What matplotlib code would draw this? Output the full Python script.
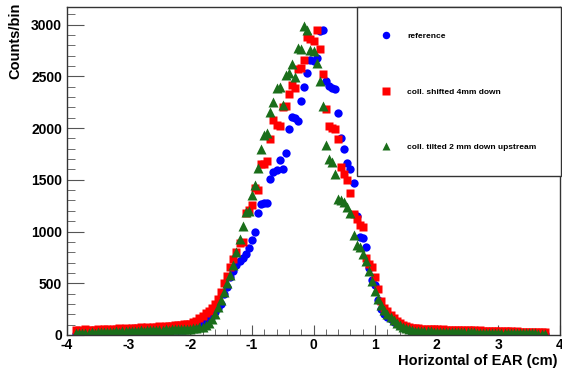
import numpy as np
import matplotlib.pyplot as plt
from matplotlib.ticker import MultipleLocator

plt.rcParams['font.family'] = ['Liberation Sans', 'DejaVu Sans']
plt.rcParams['axes.unicode_minus'] = False

# bin centres (cm), 0.05 cm bins
x = np.round(np.arange(-3.85, 3.76, 0.05), 2)

# counts per bin
reference = [
    10, 15, 12, 18, 15, 20, 17, 22, 20, 24, 22, 26, 25, 28, 27, 30, 29, 32, 30, 34,
    33, 36, 35, 38, 37, 40, 39, 42, 41, 44, 43, 46, 45, 48, 50, 52, 55,
    60, 70, 80, 95, 110, 130, 150, 180, 220, 260, 300, 400, 460, 560, 615, 680, 720, 745,
    780, 840, 920, 1000, 1180, 1270, 1280, 1280, 1510, 1580, 1590, 1690, 1600, 1760, 1990,
    2110, 2100, 2070, 2260, 2400, 2530, 2660, 2650, 2680, 2940, 2950, 2450, 2410, 2390,
    2380, 2150, 1900, 1800, 1660, 1600, 1470, 1150, 950, 940, 855, 650, 530, 480, 340,
    250, 200, 175, 150, 130, 110, 97, 80, 65,
    45, 35, 30, 27, 25, 24, 23, 22, 21, 21, 20, 20, 19, 19, 18, 18, 17, 17, 16, 16,
    15, 15, 14, 14, 14, 13, 13, 13, 12, 12, 12, 11, 11, 11, 10, 10, 10, 10, 9, 9,
    9, 9, 8, 8, 8,
]
shifted = [
    45, 50, 40, 55, 48, 52, 45, 58, 50, 55, 60, 52, 62, 58, 65, 60, 70, 62, 68, 72,
    65, 75, 70, 78, 72, 80, 76, 85, 80, 88, 84, 90, 95, 92, 100, 105, 108,
    110, 125, 140, 160, 180, 210, 235, 265, 300, 350, 420, 500, 570, 660, 730, 800, 890, 900,
    1180, 1210, 1260, 1420, 1400, 1650, 1650, 1680, 1890, 2080, 2030, 2020, 2200, 2210, 2330,
    2420, 2390, 2570, 2580, 2660, 2880, 2860, 2840, 2950, 2760, 2520, 2180, 2020, 2000,
    1990, 1890, 1620, 1560, 1500, 1370, 1170, 1120, 1060, 1040, 740, 690, 660, 560, 440,
    330, 260, 230, 195, 160, 135, 120, 100, 90,
    80, 70, 65, 68, 60, 62, 58, 60, 55, 57, 52, 55, 50, 53, 48, 50, 47, 49, 45, 47,
    44, 46, 42, 44, 40, 42, 38, 40, 37, 39, 35, 37, 34, 36, 32, 34, 31, 33, 30, 32,
    29, 31, 28, 30, 27,
]
tilted = [
    15, 20, 18, 22, 20, 25, 22, 28, 25, 30, 27, 32, 30, 35, 32, 38, 35, 40, 37, 42,
    40, 45, 42, 47, 45, 50, 48, 52, 50, 55, 53, 57, 55, 60, 58, 62, 60,
    60, 65, 70, 75, 80, 95, 115, 150, 200, 270, 340, 420, 500, 580, 680, 800, 930, 1050,
    1190, 1200, 1350, 1450, 1610, 1800, 1930, 1950, 2160, 2250, 2390, 2400, 2220, 2510, 2530,
    2620, 2490, 2770, 2760, 2990, 2950, 2750, 2740, 2630, 2450, 2210, 1840, 1700, 1670,
    1560, 1310, 1300, 1290, 1240, 1180, 970, 870, 850, 780, 720, 620, 520, 430, 350,
    290, 240, 200, 170, 145, 120, 97, 80, 70,
    55, 48, 42, 40, 38, 36, 35, 34, 33, 33, 32, 31, 30, 30, 29, 28, 28, 27, 27, 26,
    25, 25, 24, 24, 23, 23, 22, 22, 21, 21, 20, 20, 19, 19, 18, 18, 17, 17, 16, 16,
    15, 15, 14, 14, 13,
]
labels = ['reference', 'coll. shifted 4mm down', 'coll. tilted 2 mm down upstream']

fig = plt.figure(figsize=(5.62, 3.71), dpi=100)
ax = fig.add_axes([67 / 562, 1 - 335 / 371, 493 / 562, 328 / 371])

h1, = ax.plot(x, reference, 'o', color='#0000ff', ms=6, mec='none', label=labels[0])
h2, = ax.plot(x, shifted, 's', color='#ff0000', ms=5.8, mec='none', label=labels[1])
h3, = ax.plot(x, tilted, '^', color='#1a6e1a', ms=6.5, mec='none', label=labels[2])

ax.set_xlim(-4, 4)
ax.set_ylim(0, 3170)
ax.xaxis.set_major_locator(MultipleLocator(1))
ax.xaxis.set_minor_locator(MultipleLocator(0.2))
ax.yaxis.set_major_locator(MultipleLocator(500))
ax.yaxis.set_minor_locator(MultipleLocator(100))
ax.tick_params(direction='in', which='both', top=False, right=False, color='#555555',
               labelsize=10)
ax.tick_params(axis='y', which='major', length=12)
ax.tick_params(axis='y', which='minor', length=6)
ax.tick_params(axis='x', which='major', length=7, pad=2)
ax.tick_params(axis='x', which='minor', length=4)
for lab in ax.get_xticklabels() + ax.get_yticklabels():
    lab.set_fontweight('bold')
for sp in ax.spines.values():
    sp.set_linewidth(1.0)
    sp.set_color('#333333')

fig.text(558 / 562, 1 - 361 / 371, 'Horizontal of EAR (cm)', ha='right', va='center',
         fontsize=10.5, fontweight='bold')
fig.text(15 / 562, 1 - 3 / 371, 'Counts/bin', ha='center', va='top', rotation=90,
         fontsize=10.5, fontweight='bold')

leg = ax.legend(handles=[h1, h2, h3], loc='upper left',
                bbox_to_anchor=(357 / 562, 1 - 7 / 371), bbox_transform=fig.transFigure,
                borderaxespad=0, prop={'weight': 'bold', 'size': 6},
                frameon=True, fancybox=False, edgecolor='#333333', framealpha=1,
                borderpad=3.0, labelspacing=5.75, handlelength=1.0, handletextpad=2.0,
                markerscale=0.9)
leg.get_frame().set_linewidth(1.0)

plt.savefig('out.png', dpi=100)
